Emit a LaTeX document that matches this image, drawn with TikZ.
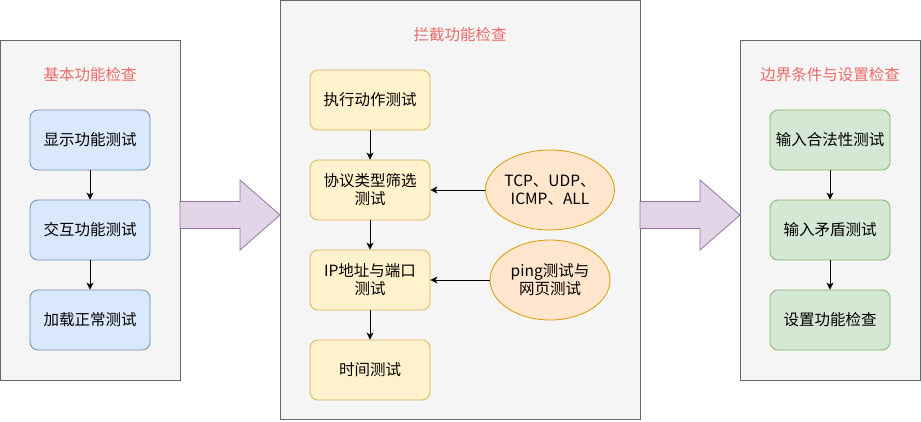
\documentclass[tikz,border=0pt]{standalone}
\usepackage{fontspec}
\setmainfont{Noto Sans CJK SC}
\usetikzlibrary{shapes.geometric,arrows.meta}
\definecolor{panelfill}{HTML}{F5F5F5}
\definecolor{panelline}{HTML}{666666}
\definecolor{bluefill}{HTML}{DAE8FC}
\definecolor{blueline}{HTML}{6C8EBF}
\definecolor{yelfill}{HTML}{FFF2CC}
\definecolor{yelline}{HTML}{D6B656}
\definecolor{grnfill}{HTML}{D5E8D4}
\definecolor{grnline}{HTML}{82B366}
\definecolor{orgfill}{HTML}{FFE6CC}
\definecolor{orgline}{HTML}{D79B00}
\definecolor{purfill}{HTML}{E1D5E7}
\definecolor{purline}{HTML}{9673A6}
\definecolor{titlered}{HTML}{EA6B66}
\tikzset{
  panel/.style={draw=panelline, fill=panelfill, line width=0.8pt, inner sep=0},
  box/.style={rounded corners=8pt, line width=0.8pt, minimum width=120, minimum height=60, inner sep=0, align=center, font=\fontsize{15.5}{18}\selectfont},
  bluebox/.style={box, draw=blueline, fill=bluefill},
  yelbox/.style={box, draw=yelline, fill=yelfill},
  grnbox/.style={box, draw=grnline, fill=grnfill},
  oval/.style={ellipse, draw=orgline, fill=orgfill, line width=0.8pt, minimum width=120, minimum height=80, inner sep=0, align=center, font=\fontsize{15.5}{18}\selectfont},
  title/.style={text=titlered, font=\fontsize{15.5}{18}\selectfont},
  conn/.style={-{Stealth[length=7pt,width=7pt,inset=2pt]}, line width=0.8pt, black},
  bigarrow/.style={draw=purline, fill=purfill, line width=0.8pt, line join=miter}
}
\begin{document}
\begin{tikzpicture}[x=1pt,y=-1pt]
\useasboundingbox (0,0) rectangle (921,421);
% panels
\node[panel, minimum width=180, minimum height=340] (pL) at (90.4,210) {};
\node[panel, minimum width=360, minimum height=419] (pM) at (460,210) {};
\node[panel, minimum width=180, minimum height=340] (pR) at (830,210) {};
% big arrows
\coordinate (aL1) at (180,201.5);
\coordinate (aL2) at (240,201.5);
\coordinate (aL3) at (240,180);
\coordinate (aL4) at (280,215);
\coordinate (aL5) at (240,250);
\coordinate (aL6) at (240,228.5);
\coordinate (aL7) at (180,228.5);
\draw[bigarrow] (aL1) -- (aL2) -- (aL3) -- (aL4) -- (aL5) -- (aL6) -- (aL7) -- cycle;
\coordinate (aR1) at (640,201.5);
\coordinate (aR2) at (700,201.5);
\coordinate (aR3) at (700,180);
\coordinate (aR4) at (740,215);
\coordinate (aR5) at (700,250);
\coordinate (aR6) at (700,228.5);
\coordinate (aR7) at (640,228.5);
\draw[bigarrow] (aR1) -- (aR2) -- (aR3) -- (aR4) -- (aR5) -- (aR6) -- (aR7) -- cycle;
% titles
\node[title] (tL) at (90,75) {基本功能检查};
\node[title] (tM) at (460,35) {拦截功能检查};
\node[title] (tR) at (830,75) {边界条件与设置检查};
% left boxes
\node[bluebox] (l1) at (90,140) {显示功能测试};
\node[bluebox] (l2) at (90,230) {交互功能测试};
\node[bluebox] (l3) at (90,320) {加载正常测试};
% middle boxes
\node[yelbox] (m1) at (370,100) {执行动作测试};
\node[yelbox] (m2) at (370,190) {协议类型筛选\\测试};
\node[yelbox] (m3) at (370,280) {IP地址与端口\\测试};
\node[yelbox] (m4) at (370,370) {时间测试};
\node[oval] (e1) at (550,190) {TCP、UDP、\\ICMP、ALL};
\node[oval] (e2) at (550,280) {ping测试与\\网页测试};
% right boxes
\node[grnbox] (r1) at (830,140) {输入合法性测试};
\node[grnbox] (r2) at (830,230) {输入矛盾测试};
\node[grnbox] (r3) at (830,320) {设置功能检查};
% connectors
\draw[conn] (l1) -- (l2);
\draw[conn] (l2) -- (l3);
\draw[conn] (m1) -- (m2);
\draw[conn] (m2) -- (m3);
\draw[conn] (m3) -- (m4);
\draw[conn] (e1) -- (m2);
\draw[conn] (e2) -- (m3);
\draw[conn] (r1) -- (r2);
\draw[conn] (r2) -- (r3);
\end{tikzpicture}
\end{document}
